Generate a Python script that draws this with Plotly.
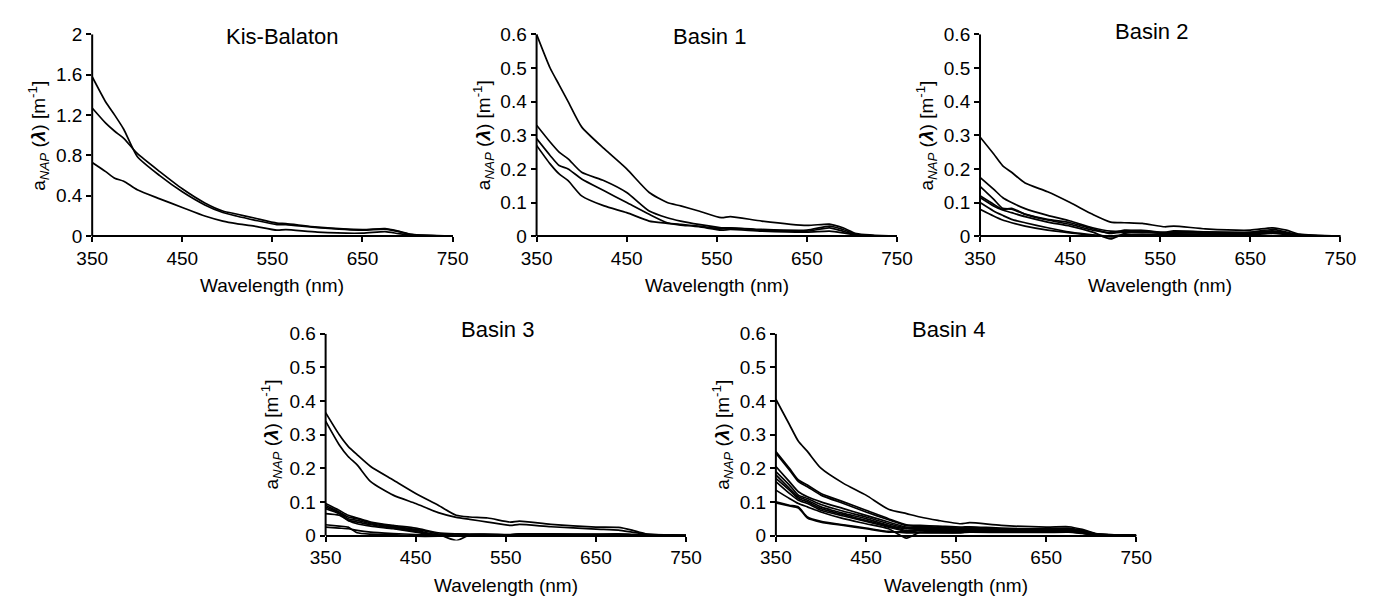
import plotly.graph_objects as go

# ---------------- data ----------------
wavelength = [350, 365, 375, 385, 400, 425, 450, 475, 495, 510, 530, 555, 565, 600, 650, 675, 690, 705, 750]

kis_balaton = [
    [1.58, 1.33, 1.20, 1.06, 0.79, 0.60, 0.44, 0.31, 0.235, 0.20, 0.16, 0.115, 0.115, 0.085, 0.060, 0.070, 0.045, 0.015, 0.0],
    [1.27, 1.12, 1.04, 0.97, 0.82, 0.64, 0.47, 0.33, 0.250, 0.22, 0.18, 0.130, 0.125, 0.090, 0.065, 0.075, 0.050, 0.018, 0.0],
    [0.73, 0.64, 0.575, 0.545, 0.46, 0.37, 0.285, 0.20, 0.150, 0.125, 0.10, 0.060, 0.065, 0.040, 0.030, 0.045, 0.025, 0.008, 0.0],
]

basin1 = [
    [0.60, 0.50, 0.45, 0.40, 0.325, 0.26, 0.20, 0.13, 0.10, 0.09, 0.075, 0.055, 0.058, 0.045, 0.032, 0.036, 0.025, 0.008, 0.0],
    [0.33, 0.28, 0.25, 0.23, 0.19, 0.165, 0.13, 0.075, 0.055, 0.045, 0.035, 0.025, 0.025, 0.020, 0.018, 0.030, 0.020, 0.005, 0.0],
    [0.29, 0.24, 0.21, 0.20, 0.17, 0.135, 0.10, 0.065, 0.040, 0.035, 0.030, 0.022, 0.024, 0.018, 0.015, 0.025, 0.015, 0.004, 0.0],
    [0.27, 0.215, 0.185, 0.165, 0.12, 0.09, 0.07, 0.045, 0.038, 0.033, 0.028, 0.018, 0.020, 0.015, 0.012, 0.015, 0.010, 0.003, 0.0],
]

basin2 = [
    [0.295, 0.245, 0.21, 0.19, 0.158, 0.132, 0.10, 0.065, 0.042, 0.040, 0.038, 0.028, 0.030, 0.022, 0.018, 0.025, 0.018, 0.006, 0.0],
    [0.175, 0.14, 0.115, 0.10, 0.082, 0.062, 0.045, 0.025, 0.015, 0.015, 0.017, 0.012, 0.016, 0.013, 0.012, 0.020, 0.012, 0.004, 0.0],
    [0.148, 0.11, 0.083, 0.08, 0.066, 0.05, 0.04, 0.022, 0.008, 0.018, 0.016, 0.010, 0.014, 0.012, 0.011, 0.016, 0.010, 0.003, 0.0],
    [0.12, 0.095, 0.08, 0.083, 0.065, 0.048, 0.035, 0.018, 0.010, 0.012, 0.015, 0.008, 0.012, 0.010, 0.010, 0.014, 0.009, 0.003, 0.0],
    [0.115, 0.09, 0.078, 0.07, 0.058, 0.042, 0.03, 0.012, -0.008, 0.008, 0.012, 0.007, 0.010, 0.009, 0.008, 0.012, 0.008, 0.002, 0.0],
    [0.10, 0.075, 0.062, 0.05, 0.04, 0.025, 0.012, 0.004, 0.0, 0.004, 0.006, 0.004, 0.007, 0.006, 0.006, 0.010, 0.006, 0.002, 0.0],
    [0.08, 0.06, 0.048, 0.04, 0.03, 0.018, 0.01, 0.002, -0.002, 0.002, 0.004, 0.003, 0.005, 0.004, 0.005, 0.008, 0.005, 0.001, 0.0],
]

basin3 = [
    [0.365, 0.30, 0.265, 0.24, 0.205, 0.165, 0.125, 0.09, 0.06, 0.055, 0.052, 0.040, 0.043, 0.033, 0.025, 0.024, 0.016, 0.005, 0.0],
    [0.34, 0.27, 0.235, 0.21, 0.16, 0.12, 0.095, 0.068, 0.054, 0.048, 0.040, 0.030, 0.033, 0.026, 0.019, 0.016, 0.010, 0.004, 0.0],
    [0.095, 0.075, 0.06, 0.052, 0.04, 0.03, 0.022, 0.008, 0.005, 0.004, 0.004, 0.003, 0.005, 0.005, 0.004, 0.005, 0.003, 0.001, 0.0],
    [0.09, 0.07, 0.055, 0.05, 0.038, 0.028, 0.018, 0.004, -0.015, 0.002, 0.003, 0.002, 0.004, 0.004, 0.003, 0.004, 0.003, 0.001, 0.0],
    [0.085, 0.068, 0.05, 0.045, 0.035, 0.025, 0.015, 0.002, 0.005, 0.003, 0.002, 0.001, 0.003, 0.003, 0.003, 0.003, 0.002, 0.001, 0.0],
    [0.08, 0.065, 0.045, 0.04, 0.032, 0.022, 0.012, 0.0, 0.0, 0.001, 0.001, 0.0, 0.002, 0.002, 0.002, 0.002, 0.001, 0.0, 0.0],
    [0.065, 0.06, 0.045, 0.035, 0.028, 0.02, 0.01, 0.0, -0.002, 0.0, 0.0, 0.0, 0.001, 0.001, 0.001, 0.001, 0.001, 0.0, 0.0],
    [0.032, 0.028, 0.025, 0.008, 0.004, 0.003, -0.002, -0.002, 0.0, 0.001, 0.001, 0.0, 0.001, 0.001, 0.001, 0.001, 0.0, 0.0, 0.0],
    [0.025, 0.022, 0.02, 0.015, 0.01, 0.006, 0.003, 0.001, 0.0, 0.0, 0.001, 0.0, 0.001, 0.001, 0.001, 0.001, 0.0, 0.0, 0.0],
]

basin4 = [
    [0.405, 0.33, 0.28, 0.25, 0.20, 0.155, 0.12, 0.078, 0.065, 0.055, 0.045, 0.035, 0.038, 0.030, 0.025, 0.026, 0.018, 0.006, 0.0],
    [0.25, 0.20, 0.165, 0.15, 0.125, 0.10, 0.075, 0.05, 0.032, 0.030, 0.028, 0.025, 0.026, 0.022, 0.020, 0.022, 0.015, 0.005, 0.0],
    [0.245, 0.195, 0.16, 0.145, 0.12, 0.095, 0.07, 0.047, 0.030, 0.027, 0.025, 0.022, 0.024, 0.020, 0.018, 0.020, 0.013, 0.004, 0.0],
    [0.205, 0.16, 0.13, 0.115, 0.10, 0.08, 0.06, 0.04, 0.025, 0.025, 0.022, 0.020, 0.022, 0.018, 0.017, 0.018, 0.012, 0.004, 0.0],
    [0.19, 0.15, 0.12, 0.11, 0.092, 0.072, 0.055, 0.035, 0.022, 0.022, 0.020, 0.018, 0.020, 0.016, 0.015, 0.016, 0.011, 0.003, 0.0],
    [0.18, 0.14, 0.115, 0.105, 0.085, 0.066, 0.05, 0.03, 0.020, 0.020, 0.018, 0.016, 0.018, 0.015, 0.014, 0.015, 0.010, 0.003, 0.0],
    [0.17, 0.135, 0.11, 0.10, 0.08, 0.062, 0.045, 0.028, 0.015, 0.018, 0.016, 0.015, 0.017, 0.014, 0.013, 0.014, 0.009, 0.003, 0.0],
    [0.16, 0.125, 0.105, 0.095, 0.075, 0.058, 0.042, 0.025, 0.012, 0.016, 0.015, 0.014, 0.016, 0.013, 0.012, 0.013, 0.008, 0.002, 0.0],
    [0.135, 0.11, 0.095, 0.085, 0.07, 0.05, 0.035, 0.02, -0.008, 0.010, 0.012, 0.012, 0.014, 0.012, 0.011, 0.012, 0.008, 0.002, 0.0],
    [0.10, 0.09, 0.085, 0.055, 0.042, 0.032, 0.022, 0.012, 0.008, 0.008, 0.008, 0.008, 0.010, 0.009, 0.009, 0.010, 0.006, 0.002, 0.0],
    [0.097, 0.088, 0.082, 0.052, 0.04, 0.03, 0.02, 0.01, 0.012, 0.010, 0.009, 0.009, 0.011, 0.010, 0.010, 0.011, 0.007, 0.002, 0.0],
]

panel_titles = ["Kis-Balaton", "Basin 1", "Basin 2", "Basin 3", "Basin 4"]
panel_data = [kis_balaton, basin1, basin2, basin3, basin4]
y_max = [2, 0.6, 0.6, 0.6, 0.6]
y_dtick = [0.4, 0.1, 0.1, 0.1, 0.1]
x_ticks = [350, 450, 550, 650, 750]

# ---------------- layout geometry (pixels) ----------------
W, H = 1374, 599
# (left, right, top, zero-line) in pixels
geom = [
    (78, 447, 25, 232),
    (533, 902, 25, 232),
    (987, 1356, 25, 232),
    (317, 686, 332, 539),
    (778, 1147, 332, 539),
]
title_pos = [(273, 27), (710, 27), (1163, 22), (493, 328), (955, 328)]
FONT = "Liberation Sans, Arial, sans-serif"
TICK_SIZE = 19

fig = go.Figure()
layout = dict(
    width=W, height=H, margin=dict(l=0, r=0, t=0, b=0),
    paper_bgcolor="white", plot_bgcolor="white", showlegend=False,
    font=dict(family=FONT, size=TICK_SIZE, color="black"),
)
annotations = []
shapes = []

for i, (name, curves) in enumerate(zip(panel_titles, panel_data)):
    n = i + 1
    xa = "x" if n == 1 else f"x{n}"
    ya = "y" if n == 1 else f"y{n}"
    L, R, T, Z = geom[i]
    ymax = y_max[i]
    ylo = -0.025 * ymax
    ppu = (Z - T) / ymax
    B = Z + (-ylo) * ppu
    for c in curves:
        fig.add_trace(go.Scatter(x=wavelength, y=c, mode="lines",
                                 line=dict(color="black", width=1.7, shape="spline", smoothing=0.6),
                                 xaxis=xa, yaxis=ya, hoverinfo="skip"))
    nt = int(round(ymax / y_dtick[i]))
    yticks = [round(k * y_dtick[i], 2) for k in range(nt + 1)]
    ytext = [("%g" % v) for v in yticks]
    layout["xaxis" if n == 1 else f"xaxis{n}"] = dict(
        domain=[L / W, R / W], range=[350, 750], anchor="free",
        position=1 - Z / H, tickvals=x_ticks, ticks="outside", ticklen=5,
        tickwidth=1.5, tickcolor="black", showline=True, linecolor="black",
        linewidth=2, showgrid=False, zeroline=False,
        tickfont=dict(family=FONT, size=TICK_SIZE, color="black"),
    )
    layout["yaxis" if n == 1 else f"yaxis{n}"] = dict(
        domain=[1 - B / H, 1 - T / H], range=[ylo, ymax], anchor=xa,
        tickvals=yticks, ticktext=ytext, ticks="outside", ticklen=5,
        tickwidth=1.5, tickcolor="black", showline=False, showgrid=False,
        zeroline=False, tickfont=dict(family=FONT, size=TICK_SIZE, color="black"),
    )
    shapes.append(dict(type="line", xref=f"{xa} domain", yref=ya,
                       x0=0, x1=0, y0=0, y1=ymax,
                       line=dict(color="black", width=2)))
    tx, ty = title_pos[i]
    annotations.append(dict(text=name, x=tx / W, y=1 - ty / H, xref="paper", yref="paper",
                            showarrow=False, xanchor="center", yanchor="middle",
                            font=dict(family=FONT, size=22, color="black")))
    annotations.append(dict(text="Wavelength (nm)", x=(L + R) / 2 / W, y=1 - (Z + 51) / H,
                            xref="paper", yref="paper", showarrow=False,
                            xanchor="center", yanchor="middle",
                            font=dict(family=FONT, size=19, color="black")))
    annotations.append(dict(text="a<sub><i>NAP</i></sub> (<b><i>λ</i></b>) [m<sup>-1</sup>]",
                            x=(L - 55) / W, y=1 - (T + Z) / 2 / H,
                            xref="paper", yref="paper", showarrow=False,
                            xanchor="center", yanchor="middle", textangle=-90,
                            font=dict(family=FONT, size=19, color="black")))

layout["annotations"] = annotations
layout["shapes"] = shapes
fig.update_layout(**layout)
fig.write_html("out.html")
